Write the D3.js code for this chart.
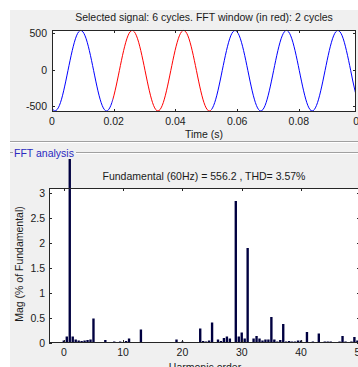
<!DOCTYPE html>
<html><head><meta charset="utf-8">
<script src="https://cdn.jsdelivr.net/npm/d3@7"></script>
<style>
body{margin:0;background:#fff;}
svg{display:block;}
text{font-family:"Liberation Sans",Arial,sans-serif;font-size:10.5px;fill:#1a1a1a;}
</style></head><body>
<svg id="c" width="358" height="367"></svg>
<script>
// ---------- data ----------
const sigTime = [0,0.00100,0.00239,0.00378,0.00517,0.00656,0.00794,0.00933,0.01072,0.01211,0.01350,0.01489,0.01628,
0.01767,0.01906,0.02044,0.02183,0.02322,0.02461,0.02600,0.02739,0.02878,0.03017,0.03156,0.03294,
0.03433,0.03572,0.03711,0.03850,0.03989,0.04128,0.04267,0.04406,0.04544,0.04683,0.04822,0.04961,
0.05100,0.05239,0.05378,0.05517,0.05656,0.05794,0.05933,0.06072,0.06211,0.06350,0.06489,0.06628,
0.06767,0.06906,0.07044,0.07183,0.07322,0.07461,0.07600,0.07739,0.07878,0.08017,0.08156,0.08294,
0.08433,0.08572,0.08711,0.08850,0.08989,0.09128,0.09267,0.09406,0.09544,0.09683,0.09822,0.09961,0.1];
const sigValue = [-529,-568,-494,-292,-16,259,461,535,461,259,-16,-292,-494,
-568,-494,-292,-16,259,461,535,461,259,-16,-292,-494,
-568,-494,-292,-16,259,461,535,461,259,-16,-292,-494,
-568,-494,-292,-16,259,461,535,461,259,-16,-292,-494,
-568,-494,-292,-16,259,461,535,461,259,-16,-292,-494,
-568,-494,-292,-16,259,461,535,461,259,-16,-292,-494,-529];
const fftWindow = [0.0197, 0.0516];
const timeTicks = [0, 0.02, 0.04, 0.06, 0.08, 0.1];
const timeTickLabels = ["0", "0.02", "0.04", "0.06", "0.08", "0.1"];
const sigTicks = [-500, 0, 500];
const sigTickLabels = ["-500", "0", "500"];

const harmonicOrder = [0,0.5,1,1.5,2,2.5,3,3.5,4,4.5,5,5.5,6,6.5,7,7.5,8,8.5,9,9.5,
10,10.5,11,11.5,12,12.5,13,13.5,14,14.5,15,15.5,16,16.5,17,17.5,18,18.5,19,19.5,
20,20.5,21,21.5,22,22.5,23,23.5,24,24.5,25,25.5,26,26.5,27,27.5,28,28.5,29,29.5,
30,30.5,31,31.5,32,32.5,33,33.5,34,34.5,35,35.5,36,36.5,37,37.5,38,38.5,39,39.5,
40,40.5,41,41.5,42,42.5,43,43.5,44,44.5,45,45.5,46,46.5,47,47.5,48,48.5,49,49.5,50];
const magnitude = [0.05,0.13,100,0.13,0.07,0.05,0.04,0.05,0.06,0.07,0.49,0.01,0.01,0.01,0.06,0.02,0.02,0.03,0.02,0.03,
0.02,0.04,0.09,0.02,0.02,0.02,0.27,0.01,0.01,0.01,0.01,0.01,0.01,0.02,0.02,0.01,0.01,0.02,0.07,0.01,
0.03,0.01,0.02,0.01,0.02,0.01,0.29,0.04,0.03,0.05,0.41,0.02,0.07,0.04,0.10,0.13,0.09,0.01,2.84,0.13,
0.21,0.09,1.90,0.02,0.09,0.14,0.09,0.05,0.07,0.07,0.52,0.07,0.03,0.06,0.38,0.03,0.04,0.03,0.03,0.05,
0.05,0.01,0.22,0.01,0.03,0.01,0.19,0.01,0.03,0.03,0.03,0.02,0.02,0.03,0.14,0.03,0.02,0.03,0.12,0.05,0.03];
const harmTicks = [0, 10, 20, 30, 40, 50];
const harmTickLabels = ["0", "10", "20", "30", "40", "50"];
const magTicks = [0, 0.5, 1, 1.5, 2, 2.5, 3];
const magTickLabels = ["0", "0.5", "1", "1.5", "2", "2.5", "3"];

const titleTop = "Selected signal: 6 cycles. FFT window (in red): 2 cycles";
const xLabelTop = "Time (s)";
const panelTitle = "FFT analysis";
const titleFFT = "Fundamental (60Hz) = 556.2 , THD= 3.57%";
const xLabelFFT = "Harmonic order";
const yLabelFFT = "Mag (% of Fundamental)";

// ---------- drawing ----------
const svg = d3.select("#c");
const axisColor = "#262626";
const tk = 3;

svg.append("rect").attr("x", 10).attr("y", 10).attr("width", 348).attr("height", 357).attr("fill", "#f0f0f0");

// ===== top plot =====
const T = {l: 52, r: 356, t: 30, b: 112};
const xT = d3.scaleLinear().domain([0, 0.1]).range([T.l, T.l + 308.5]);
const yT = d3.scaleLinear().domain([-582, 541]).range([T.b, T.t]);

svg.append("rect").attr("x", T.l).attr("y", T.t).attr("width", T.r - T.l).attr("height", T.b - T.t).attr("fill", "#fff");
const defs = svg.append("defs");
const xr0 = xT(fftWindow[0]), xr1 = xT(fftWindow[1]);
const cpB = defs.append("clipPath").attr("id", "clipBlue");
cpB.append("rect").attr("x", T.l).attr("y", T.t - 1).attr("width", xr0 - T.l).attr("height", T.b - T.t + 2);
cpB.append("rect").attr("x", xr1).attr("y", T.t - 1).attr("width", T.r - xr1).attr("height", T.b - T.t + 2);
defs.append("clipPath").attr("id", "clipRed").append("rect")
  .attr("x", xr0).attr("y", T.t - 1).attr("width", xr1 - xr0).attr("height", T.b - T.t + 2);

const pts = sigTime.map((t, i) => [t, sigValue[i]]);
const line = d3.line().x(d => xT(d[0])).y(d => yT(d[1])).curve(d3.curveNatural);
svg.append("path").attr("clip-path", "url(#clipBlue)").attr("d", line(pts))
  .attr("fill", "none").attr("stroke", "#0000ff").attr("stroke-width", 1);
svg.append("path").attr("clip-path", "url(#clipRed)").attr("d", line(pts))
  .attr("fill", "none").attr("stroke", "#ff0000").attr("stroke-width", 1);

function box(B) {
  svg.append("rect").attr("x", B.l + 0.5).attr("y", B.t + 0.5).attr("width", B.r - B.l - 1).attr("height", B.b - B.t - 1)
    .attr("fill", "none").attr("stroke", axisColor).attr("stroke-width", 1);
}
box(T);
const gTT = svg.append("g").attr("stroke", axisColor).attr("stroke-width", 1);
timeTicks.forEach(v => {
  const x = Math.round(xT(v)) + 0.5;
  if (x > T.r) return;
  gTT.append("line").attr("x1", x).attr("x2", x).attr("y1", T.b).attr("y2", T.b - tk);
  gTT.append("line").attr("x1", x).attr("x2", x).attr("y1", T.t).attr("y2", T.t + tk);
});
sigTicks.forEach(v => {
  const y = Math.round(yT(v)) + 0.5;
  gTT.append("line").attr("x1", T.l).attr("x2", T.l + tk).attr("y1", y).attr("y2", y);
  gTT.append("line").attr("x1", T.r).attr("x2", T.r - tk).attr("y1", y).attr("y2", y);
});
timeTicks.forEach((v, i) => {
  svg.append("text").attr("x", xT(v)).attr("y", 121).attr("text-anchor", "middle")
    .attr("dominant-baseline", "central").text(timeTickLabels[i]);
});
sigTicks.forEach((v, i) => {
  svg.append("text").attr("x", T.l - 5).attr("y", yT(v)).attr("text-anchor", "end")
    .attr("dominant-baseline", "central").text(sigTickLabels[i]);
});
svg.append("text").attr("x", 204).attr("y", 17).attr("text-anchor", "middle").attr("dominant-baseline", "central").text(titleTop);
svg.append("text").attr("x", 204).attr("y", 134).attr("text-anchor", "middle").attr("dominant-baseline", "central").text(xLabelTop);

// ===== separators / panel =====
svg.append("line").attr("x1", 10).attr("x2", 358).attr("y1", 141.5).attr("y2", 141.5).attr("stroke", "#a0a0a0");
svg.append("line").attr("x1", 10).attr("x2", 358).attr("y1", 142.5).attr("y2", 142.5).attr("stroke", "#ffffff");
svg.append("line").attr("x1", 10).attr("x2", 13).attr("y1", 152.5).attr("y2", 152.5).attr("stroke", "#a0a0a0");
svg.append("line").attr("x1", 76).attr("x2", 358).attr("y1", 152.5).attr("y2", 152.5).attr("stroke", "#a0a0a0");
svg.append("line").attr("x1", 76).attr("x2", 358).attr("y1", 153.5).attr("y2", 153.5).attr("stroke", "#ffffff");
svg.append("text").attr("x", 14).attr("y", 152.5).attr("dominant-baseline", "central")
  .style("fill", "#2a2ac0").text(panelTitle);

// ===== FFT plot =====
const F = {l: 49, r: 360, t: 188, b: 343};
const xF = d3.scaleLinear().domain([-2.5, 50]).range([F.l, F.l + 52.5 * 5.93]);
const yF = d3.scaleLinear().domain([0, 3.1]).range([F.b, F.t]);

svg.append("rect").attr("x", F.l).attr("y", F.t).attr("width", F.r - F.l).attr("height", F.b - F.t).attr("fill", "#fff");
defs.append("clipPath").attr("id", "clipF").append("rect")
  .attr("x", F.l).attr("y", 159).attr("width", F.r - F.l).attr("height", F.b - 159);

const bw = xF(0.4) - xF(0);
svg.append("g").attr("clip-path", "url(#clipF)")
  .selectAll("rect").data(harmonicOrder.map((h, i) => ({h, v: magnitude[i]})))
  .join("rect")
  .attr("x", d => xF(d.h) - bw / 2)
  .attr("width", bw)
  .attr("y", d => yF(d.v))
  .attr("height", d => yF(0) - yF(d.v))
  .attr("fill", "#000040");

box(F);
const gFT = svg.append("g").attr("stroke", axisColor).attr("stroke-width", 1);
harmTicks.forEach(v => {
  const x = Math.round(xF(v)) + 0.5;
  gFT.append("line").attr("x1", x).attr("x2", x).attr("y1", F.b).attr("y2", F.b - tk);
  gFT.append("line").attr("x1", x).attr("x2", x).attr("y1", F.t).attr("y2", F.t + tk);
});
magTicks.forEach(v => {
  const y = Math.round(yF(v)) + 0.5;
  gFT.append("line").attr("x1", F.l).attr("x2", F.l + tk).attr("y1", y).attr("y2", y);
  gFT.append("line").attr("x1", F.r).attr("x2", F.r - tk).attr("y1", y).attr("y2", y);
});
harmTicks.forEach((v, i) => {
  svg.append("text").attr("x", xF(v)).attr("y", 352).attr("text-anchor", "middle")
    .attr("dominant-baseline", "central").text(harmTickLabels[i]);
});
magTicks.forEach((v, i) => {
  svg.append("text").attr("x", F.l - 4).attr("y", yF(v)).attr("text-anchor", "end")
    .attr("dominant-baseline", "central").text(magTickLabels[i]);
});
svg.append("text").attr("x", 204).attr("y", 176).attr("text-anchor", "middle").attr("dominant-baseline", "central").text(titleFFT);
svg.append("text").attr("x", 205).attr("y", 367).attr("text-anchor", "middle").attr("dominant-baseline", "central").text(xLabelFFT);
svg.append("text").attr("transform", "translate(19,264) rotate(-90)").attr("text-anchor", "middle")
  .attr("dominant-baseline", "central").text(yLabelFFT);
</script>
</body></html>
